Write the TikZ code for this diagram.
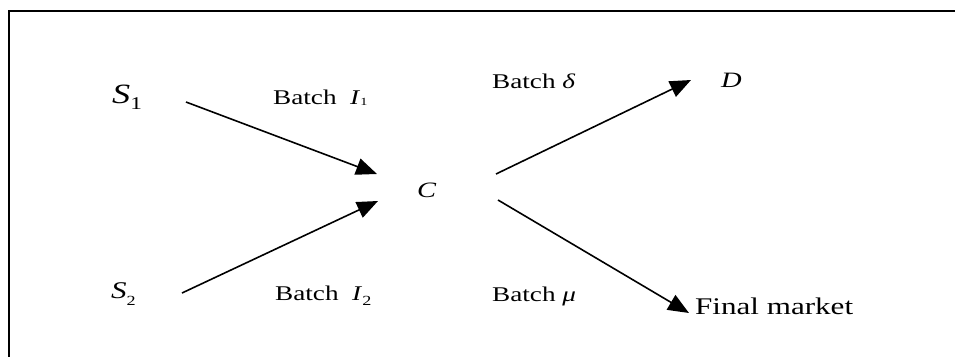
\documentclass[tikz,border=0pt]{standalone}
\usepackage{fontspec}
\setmainfont[FakeStretch=1.3]{Liberation Serif}
\usetikzlibrary{arrows.meta,positioning}

\newcommand{\fs}[1]{\fontsize{#1}{#1}\selectfont}

\begin{document}
\begin{tikzpicture}[x=1bp, y=-1bp,
    flow/.style={line width=1.6pt, -{Triangle[length=21pt, width=17pt]}},
    txt/.style={anchor=base west, inner sep=0pt, font=\fs{21}}]
    \useasboundingbox (0,0) rectangle (955,356);
    % frame, only top and left edges inside the page
    \draw[line width=2pt] (9,400) -- (9,11) -- (1000,11);
    % supply, centre, demand
    \node[txt, font=\fs{28}] (s1) at (112,103) {\textit{S}\raisebox{-7pt}{\fs{18}1}};
    \node[txt, font=\fs{24}] (s2) at (111,298) {\textit{S}\raisebox{-8pt}{\fs{14}2}};
    \node[txt, font=\fs{22}] (c) at (417,197) {\textit{C}};
    \node[txt, font=\fs{22}] (d) at (721,87) {\textit{D}};
    \node[txt, font=\fs{24}] (mkt) at (695,314) {Final market};
    % batch labels
    \node[txt] (bi1) at (273,104) {Batch\ \ \textit{I}\raisebox{-1pt}{\fs{11}1}};
    \node[txt] (bi2) at (275,300) {Batch\ \ \textit{I}\raisebox{-6pt}{\fs{14}2}};
    \node[txt] (bd) at (492,88) {Batch \textit{δ}};
    \node[txt] (bm) at (492,301) {Batch \textit{μ}};
    % arrow ends
    \coordinate (s1out) at (186,102);
    \coordinate (s2out) at (182,293);
    \coordinate (cin1) at (377,174);
    \coordinate (cin2) at (378,201);
    \coordinate (cout1) at (496,174);
    \coordinate (cout2) at (498,200);
    \coordinate (din) at (691,80);
    \coordinate (mktin) at (689,313);
    \draw[flow] (s1out) -- (cin1);
    \draw[flow] (s2out) -- (cin2);
    \draw[flow] (cout1) -- (din);
    \draw[flow] (cout2) -- (mktin);
\end{tikzpicture}
\end{document}
